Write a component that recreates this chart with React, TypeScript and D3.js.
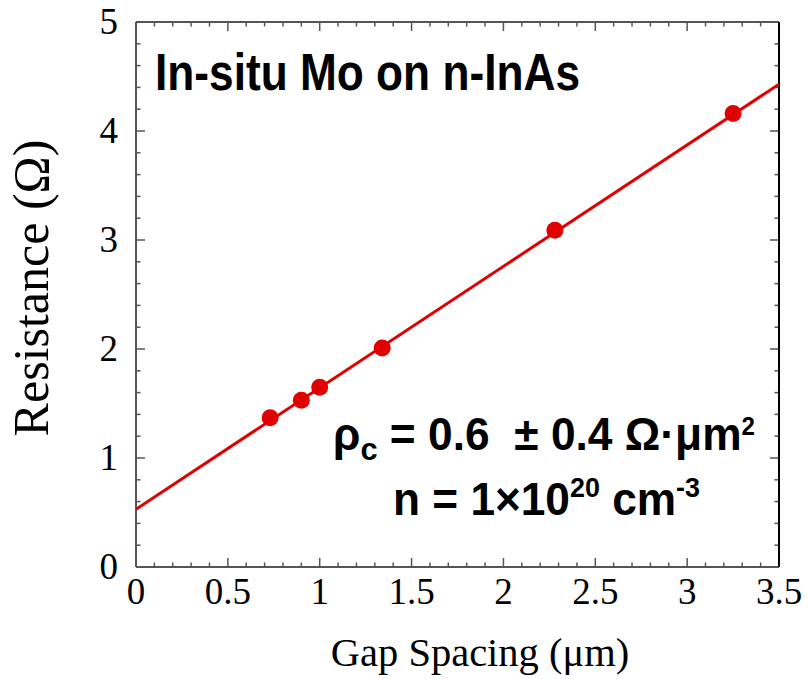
import React from "react";
import * as d3 from "d3";

const gapSpacing = [0.73, 0.9, 1.0, 1.34, 2.28, 3.25];
const resistance = [1.37, 1.53, 1.65, 2.01, 3.09, 4.16];
const fitIntercept = 0.53;
const fitSlope = 1.114;
const xTickLabels = ["0", "0.5", "1", "1.5", "2", "2.5", "3", "3.5"];
const yTickLabels = ["0", "1", "2", "3", "4", "5"];

const W = 808;
const H = 679;
const L = 136, R = 779, T = 22, B = 567;

export default function App() {
  const x = d3.scaleLinear().domain([0, 3.5]).range([L, R]);
  const y = d3.scaleLinear().domain([0, 5]).range([B, T]);
  const xMinor = d3.range(0, 36).map((i) => i / 10);
  const yMinor = d3.range(0, 26).map((i) => i / 5);
  const isMajorX = (v: number) => Math.abs(v * 2 - Math.round(v * 2)) < 1e-6;
  const isMajorY = (v: number) => Math.abs(v - Math.round(v)) < 1e-6;
  const line = d3
    .line<number>()
    .x((d) => x(d))
    .y((d) => y(fitIntercept + fitSlope * d));
  const fitXs = [0, 3.5];
  const axisColor = "#555";
  const serif = "'Liberation Serif', 'Times New Roman', serif";
  const sans = "'Liberation Sans', Arial, sans-serif";

  return (
    <svg width={W} height={H} style={{ position: "absolute", left: 0, top: 0, background: "#fff" }}>
      <rect x={0} y={0} width={W} height={H} fill="#fff" />
      <defs>
        <clipPath id="plot">
          <rect x={L} y={T} width={R - L} height={B - T} />
        </clipPath>
      </defs>
      {/* ticks */}
      {xMinor.map((v, i) => {
        const len = isMajorX(v) ? 9 : 4.5;
        return (
          <g key={"xt" + i} stroke={axisColor} strokeWidth={1.5}>
            <line x1={x(v)} x2={x(v)} y1={B} y2={B - len} />
            <line x1={x(v)} x2={x(v)} y1={T} y2={T + len} />
          </g>
        );
      })}
      {yMinor.map((v, i) => {
        const len = isMajorY(v) ? 9 : 4.5;
        return (
          <g key={"yt" + i} stroke={axisColor} strokeWidth={1.5}>
            <line x1={L} x2={L + len} y1={y(v)} y2={y(v)} />
            <line x1={R} x2={R - len} y1={y(v)} y2={y(v)} />
          </g>
        );
      })}
      {/* frame */}
      <line x1={L} x2={R} y1={T} y2={T} stroke={axisColor} strokeWidth={2} />
      <line x1={L} x2={R} y1={B} y2={B} stroke={axisColor} strokeWidth={2} />
      <line x1={L} x2={L} y1={T} y2={B} stroke={axisColor} strokeWidth={2} />
      <line x1={R} x2={R} y1={T} y2={B} stroke="#000" strokeWidth={2} />
      {/* tick labels */}
      {xTickLabels.map((s, i) => (
        <text key={"xl" + i} x={x(i * 0.5)} y={604} textAnchor="middle" fontFamily={serif} fontSize={37} fill="#000">
          {s}
        </text>
      ))}
      {yTickLabels.map((s, i) => (
        <text key={"yl" + i} x={118} y={y(i) + 12} textAnchor="end" fontFamily={serif} fontSize={37} fill="#000">
          {s}
        </text>
      ))}
      {/* axis titles */}
      <text x={480} y={666} textAnchor="middle" fontFamily={serif} fontSize={40.5} fill="#000">
        Gap Spacing (μm)
      </text>
      <text
        transform={`translate(48, 288) rotate(-90)`}
        textAnchor="middle"
        fontFamily={serif}
        fontSize={50}
        fill="#000"
      >
        Resistance (Ω)
      </text>
      {/* fit line */}
      <path d={line(fitXs) || ""} stroke="#e00000" strokeWidth={3} fill="none" clipPath="url(#plot)" />
      {gapSpacing.map((g, i) => (
        <circle key={"p" + i} cx={x(g)} cy={y(resistance[i])} r={8.5} fill="#e00000" />
      ))}
      {/* annotations */}
      <text x={155} y={90} fontFamily={sans} fontWeight="bold" fontSize={52} fill="#000" textLength={425} lengthAdjust="spacingAndGlyphs">
        In-situ Mo on n-InAs
      </text>
      <text x={333} y={450} fontFamily={sans} fontWeight="bold" fontSize={46} fill="#000" textLength={422} lengthAdjust="spacingAndGlyphs" style={{ whiteSpace: "pre" }}>
        ρ<tspan fontSize={32} dy={10}>c</tspan>
        <tspan dy={-10}>{" = 0.6  ± 0.4 Ω·μm"}</tspan>
        <tspan fontSize={25} dy={-15}>2</tspan>
      </text>
      <text x={393} y={515} fontFamily={sans} fontWeight="bold" fontSize={46} fill="#000" textLength={307} lengthAdjust="spacingAndGlyphs">
        {"n = 1×10"}
        <tspan fontSize={28} dy={-18}>20</tspan>
        <tspan dy={18}>{" cm"}</tspan>
        <tspan fontSize={28} dy={-18}>-3</tspan>
      </text>
    </svg>
  );
}
